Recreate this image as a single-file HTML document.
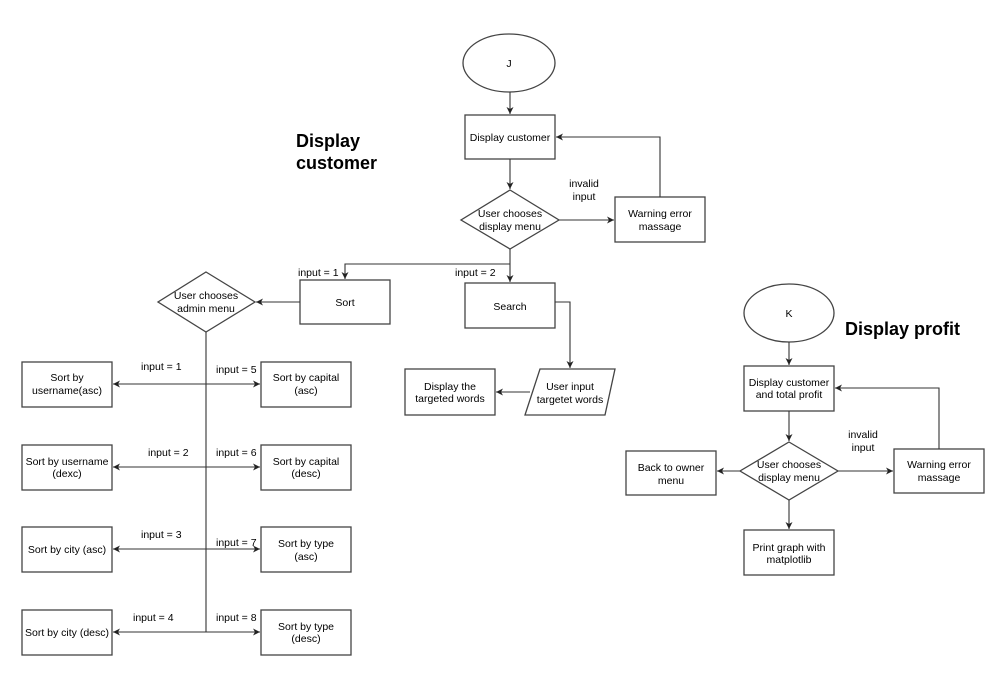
<!DOCTYPE html>
<html><head><meta charset="utf-8"><style>
html,body{margin:0;padding:0;background:#fff;}
svg{display:block;}
text{font-family:"Liberation Sans",Arial,sans-serif;font-size:10.5px;fill:#000;}
.b{font-size:18px;font-weight:bold;}
</style></head><body>
<svg width="1002" height="673" viewBox="0 0 1002 673" xmlns="http://www.w3.org/2000/svg">
<defs>
<marker id="a" markerWidth="8" markerHeight="8" refX="7" refY="4" orient="auto" markerUnits="userSpaceOnUse">
<path d="M0,0.5 L7,4 L0,7.5 L2,4 Z" fill="#222"/></marker>
</defs>
<g fill="#fff" stroke="#444" stroke-width="1.3">
<ellipse cx="509" cy="63" rx="46" ry="29"/>
<rect x="465" y="115" width="90" height="44"/>
<polygon points="510,190 559,220 510,249 461,220"/>
<rect x="615" y="197" width="90" height="45"/>
<rect x="300" y="280" width="90" height="44"/>
<rect x="465" y="283" width="90" height="45"/>
<polygon points="206,272 255,302 206,332 158,302"/>
<polygon points="540,369 615,369 605,415 525,415"/>
<rect x="405" y="369" width="90" height="46"/>
<rect x="22" y="362" width="90" height="45"/>
<rect x="22" y="445" width="90" height="45"/>
<rect x="22" y="527" width="90" height="45"/>
<rect x="22" y="610" width="90" height="45"/>
<rect x="261" y="362" width="90" height="45"/>
<rect x="261" y="445" width="90" height="45"/>
<rect x="261" y="527" width="90" height="45"/>
<rect x="261" y="610" width="90" height="45"/>
<ellipse cx="789" cy="313" rx="45" ry="29"/>
<rect x="744" y="366" width="90" height="45"/>
<polygon points="789,442 838,471 789,500 740,471"/>
<rect x="626" y="451" width="90" height="44"/>
<rect x="894" y="449" width="90" height="44"/>
<rect x="744" y="530" width="90" height="45"/>
</g>
<g fill="none" stroke="#333" stroke-width="1.1">
<line x1="510" y1="92" x2="510" y2="114" marker-end="url(#a)"/>
<line x1="510" y1="159" x2="510" y2="189" marker-end="url(#a)"/>
<line x1="559" y1="220" x2="614" y2="220" marker-end="url(#a)"/>
<polyline points="660,197 660,137 556,137" marker-end="url(#a)"/>
<line x1="510" y1="249" x2="510" y2="282" marker-end="url(#a)"/>
<polyline points="510,264 345,264 345,279" marker-end="url(#a)"/>
<line x1="300" y1="302" x2="256" y2="302" marker-end="url(#a)"/>
<polyline points="555,302 570,302 570,368" marker-end="url(#a)"/>
<line x1="530" y1="392" x2="496" y2="392" marker-end="url(#a)"/>
<line x1="206" y1="332" x2="206" y2="632"/>
<line x1="206" y1="384" x2="113" y2="384" marker-end="url(#a)"/>
<line x1="206" y1="384" x2="260" y2="384" marker-end="url(#a)"/>
<line x1="206" y1="467" x2="113" y2="467" marker-end="url(#a)"/>
<line x1="206" y1="467" x2="260" y2="467" marker-end="url(#a)"/>
<line x1="206" y1="549" x2="113" y2="549" marker-end="url(#a)"/>
<line x1="206" y1="549" x2="260" y2="549" marker-end="url(#a)"/>
<line x1="206" y1="632" x2="113" y2="632" marker-end="url(#a)"/>
<line x1="206" y1="632" x2="260" y2="632" marker-end="url(#a)"/>
<line x1="789" y1="342" x2="789" y2="365" marker-end="url(#a)"/>
<line x1="789" y1="411" x2="789" y2="441" marker-end="url(#a)"/>
<line x1="740" y1="471" x2="717" y2="471" marker-end="url(#a)"/>
<line x1="838" y1="471" x2="893" y2="471" marker-end="url(#a)"/>
<polyline points="939,449 939,388 835,388" marker-end="url(#a)"/>
<line x1="789" y1="500" x2="789" y2="529" marker-end="url(#a)"/>
</g>
<g text-anchor="middle">
<text x="509" y="67">J</text>
<text x="510" y="141">Display customer</text>
<text x="510" y="217">User chooses</text><text x="510" y="230">display menu</text>
<text x="660" y="217">Warning error</text><text x="660" y="230">massage</text>
<text x="584" y="187">invalid</text><text x="584" y="200">input</text>
<text x="345" y="306">Sort</text>
<text x="510" y="310">Search</text>
<text x="206" y="299">User chooses</text><text x="206" y="312">admin menu</text>
<text x="570" y="390">User input</text><text x="570" y="403">targetet words</text>
<text x="450" y="390">Display the</text><text x="450" y="402">targeted words</text>
<text x="67" y="381">Sort by</text><text x="67" y="394">username(asc)</text>
<text x="67" y="465">Sort by username</text><text x="67" y="477">(dexc)</text>
<text x="67" y="553">Sort by city (asc)</text>
<text x="67" y="636">Sort by city (desc)</text>
<text x="306" y="381">Sort by capital</text><text x="306" y="394">(asc)</text>
<text x="306" y="465">Sort by capital</text><text x="306" y="477">(desc)</text>
<text x="306" y="547">Sort by type</text><text x="306" y="560">(asc)</text>
<text x="306" y="630">Sort by type</text><text x="306" y="642">(desc)</text>
<text x="789" y="317">K</text>
<text x="789" y="386">Display customer</text><text x="789" y="398">and total profit</text>
<text x="789" y="468">User chooses</text><text x="789" y="481">display menu</text>
<text x="671" y="471">Back to owner</text><text x="671" y="484">menu</text>
<text x="939" y="468">Warning error</text><text x="939" y="481">massage</text>
<text x="863" y="438">invalid</text><text x="863" y="451">input</text>
<text x="789" y="551">Print graph with</text><text x="789" y="563">matplotlib</text>
</g>
<text x="298" y="276">input = 1</text>
<text x="455" y="276">input = 2</text>
<text x="141" y="370">input = 1</text>
<text x="216" y="373">input = 5</text>
<text x="148" y="456">input = 2</text>
<text x="216" y="456">input = 6</text>
<text x="141" y="538">input = 3</text>
<text x="216" y="546">input = 7</text>
<text x="133" y="621">input = 4</text>
<text x="216" y="621">input = 8</text>
<text class="b" x="296" y="147">Display</text>
<text class="b" x="296" y="169">customer</text>
<text class="b" x="845" y="335">Display profit</text>
</svg>
</body></html>
